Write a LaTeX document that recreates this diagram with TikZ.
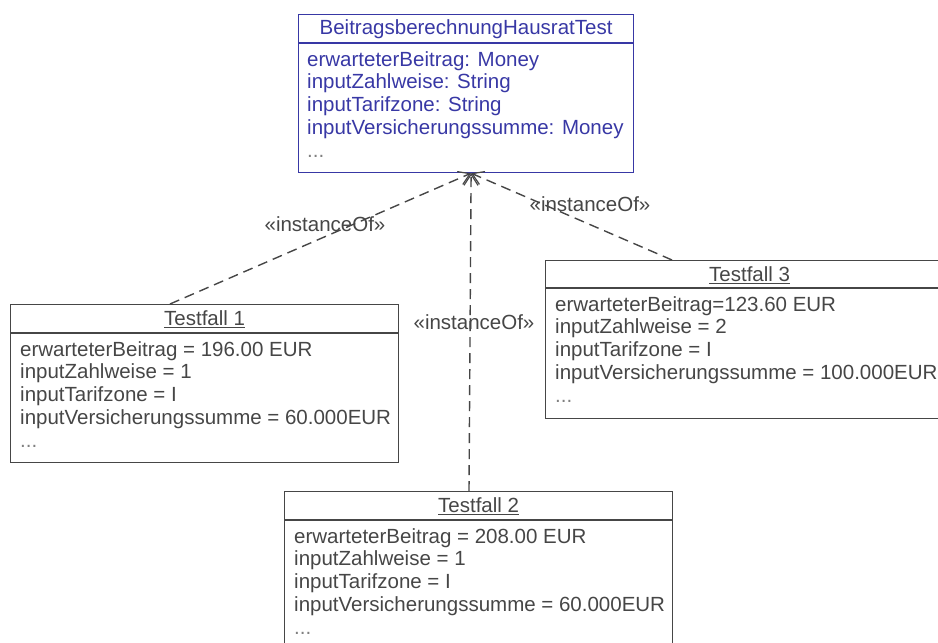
\documentclass[tikz,border=0pt]{standalone}
\usepackage{fontspec}
\setmainfont{Liberation Sans}
\usetikzlibrary{arrows.meta}
\definecolor{classblue}{RGB}{56,56,165}
\definecolor{objgray}{RGB}{70,70,70}
\begin{document}
\begin{tikzpicture}[
  x=1pt, y=-1pt,
  every node/.style={font=\fontsize{20.5}{22.8}\selectfont, inner sep=0pt},
  classbox/.style={draw=classblue, line width=1.2pt, anchor=north west},
  objbox/.style={draw=objgray, line width=1.2pt, anchor=north west},
  body/.style={anchor=north west, align=left},
  inst/.style={draw=objgray, dash pattern=on 10pt off 6pt, line width=1.4pt,
    -{Straight Barb[length=11pt,width=14pt,line width=1.2pt]}},
  stereo/.style={text=objgray}
]
\useasboundingbox (0,0) rectangle (938,643);

% class
\node[classbox, minimum width=335pt, minimum height=158pt] (cls) at (298,14) {};
\draw[classblue, line width=1.2pt] ([yshift=-29pt]cls.north west) -- ([yshift=-29pt]cls.north east);
\node[text=classblue] (clshead) at ([yshift=-15pt]cls.north) {BeitragsberechnungHausratTest};
\node[body, text=classblue] (clsbody) at (307,51) {erwarteterBeitrag: Money\\inputZahlweise: String\\inputTarifzone: String\\inputVersicherungssumme: Money\\{\color{gray}...}};

% objects
\node[objbox, minimum width=388pt, minimum height=158pt] (tf1) at (10,304) {};
\draw[objgray, line width=1.2pt] ([yshift=-29pt]tf1.north west) -- ([yshift=-29pt]tf1.north east);
\node[text=objgray] (tf1head) at ([yshift=-15pt]tf1.north) {\underline{Testfall 1}};
\node[body, text=objgray] (tf1body) at (20,341) {erwarteterBeitrag = 196.00 EUR\\inputZahlweise = 1\\inputTarifzone = I\\inputVersicherungssumme = 60.000EUR\\{\color{gray}...}};

\node[objbox, minimum width=388pt, minimum height=170pt] (tf2) at (284,491) {};
\draw[objgray, line width=1.2pt] ([yshift=-29pt]tf2.north west) -- ([yshift=-29pt]tf2.north east);
\node[text=objgray] (tf2head) at ([yshift=-15pt]tf2.north) {\underline{Testfall 2}};
\node[body, text=objgray] (tf2body) at (294,528) {erwarteterBeitrag = 208.00 EUR\\inputZahlweise = 1\\inputTarifzone = I\\inputVersicherungssumme = 60.000EUR\\{\color{gray}...}};

\node[objbox, minimum width=408pt, minimum height=158pt] (tf3) at (545,260) {};
\draw[objgray, line width=1.2pt] ([yshift=-28pt]tf3.north west) -- ([yshift=-28pt]tf3.north east);
\node[text=objgray] (tf3head) at ([yshift=-15pt]tf3.north) {\underline{Testfall 3}};
\node[body, text=objgray] (tf3body) at (555,296) {erwarteterBeitrag=123.60 EUR\\inputZahlweise = 2\\inputTarifzone = I\\inputVersicherungssumme = 100.000EUR\\{\color{gray}...}};

% connectors
\coordinate (tip) at ([xshift=5pt]cls.south);
\coordinate (tf1top) at (170,304);
\coordinate (tf2top) at (469,491);
\coordinate (tf3top) at (672,260);
\draw[inst] (tf1top) -- (tip);
\draw[inst] (tf2top) -- (tip);
\draw[inst] (tf3top) -- (tip);
\node[stereo] (lbl1) at (325,224) {«instanceOf»};
\node[stereo] (lbl2) at (474,322) {«instanceOf»};
\node[stereo] (lbl3) at (590,204) {«instanceOf»};
\end{tikzpicture}
\end{document}
